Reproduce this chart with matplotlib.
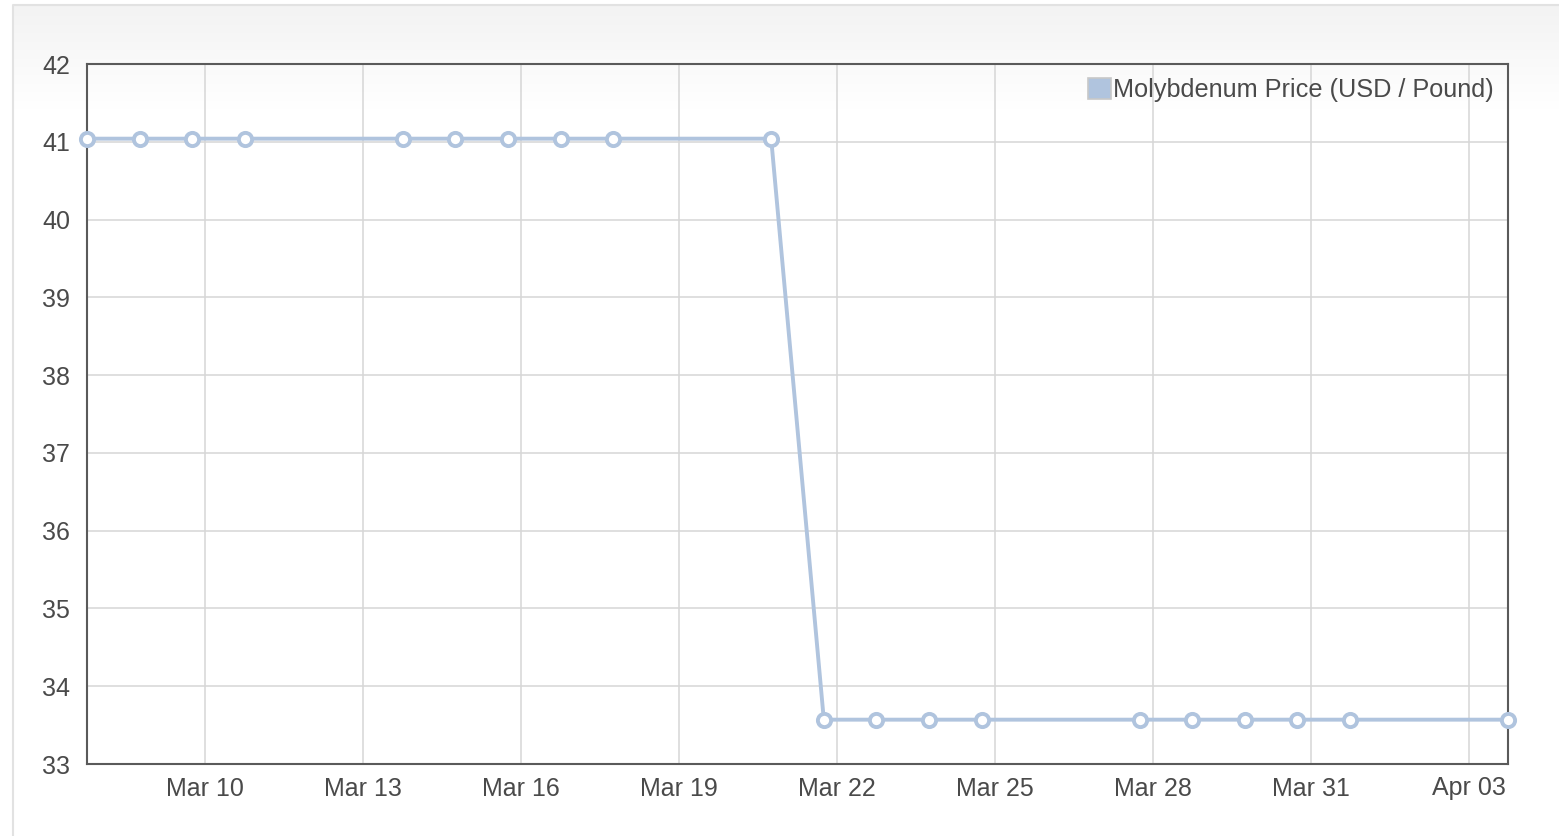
import matplotlib
matplotlib.use("Agg")
import matplotlib.pyplot as plt
import matplotlib.dates as mdates
from matplotlib.patches import Patch
import numpy as np
import datetime as dt

plt.rcParams['font.family'] = ['Liberation Sans', 'DejaVu Sans']

# trading days (values stamped at 18:00)
dates = ["2023-03-07", "2023-03-08", "2023-03-09", "2023-03-10",
         "2023-03-13", "2023-03-14", "2023-03-15", "2023-03-16", "2023-03-17",
         "2023-03-20", "2023-03-21", "2023-03-22", "2023-03-23", "2023-03-24",
         "2023-03-27", "2023-03-28", "2023-03-29", "2023-03-30", "2023-03-31",
         "2023-04-03"]
prices = [41.04, 41.04, 41.04, 41.04,
          41.04, 41.04, 41.04, 41.04, 41.04,
          41.04, 33.57, 33.57, 33.57, 33.57,
          33.57, 33.57, 33.57, 33.57, 33.57,
          33.57]
tick_dates = ["2023-03-10", "2023-03-13", "2023-03-16", "2023-03-19", "2023-03-22",
              "2023-03-25", "2023-03-28", "2023-03-31", "2023-04-03"]
label = "Molybdenum Price (USD / Pound)"

W, H = 1559, 836
fig = plt.figure(figsize=(W / 100, H / 100), dpi=100)
fig.patch.set_facecolor("white")

# card background with soft top gradient
bg = fig.add_axes([0, 0, 1, 1], zorder=-1)
bg.set_xlim(0, W)
bg.set_ylim(H, 0)
bg.axis("off")
grad = np.linspace(0.952, 1.0, 100).reshape(-1, 1)
bg.imshow(np.dstack([grad, grad, grad]), extent=[13, W, 110, 5], aspect="auto")
bg.plot([13, 13, W], [H, 5, 5], color="#e2e2e2", lw=1.5)

x = [dt.datetime.strptime(d, "%Y-%m-%d") + dt.timedelta(hours=18) for d in dates]
ticks = [dt.datetime.strptime(d, "%Y-%m-%d") for d in tick_dates]

ax = fig.add_axes([87 / W, 1 - 764 / H, (1508 - 87) / W, (764 - 64) / H])
ax.set_facecolor("none")
line_c = "#b0c4de"
ax.plot(x, prices, color=line_c, lw=2.8, marker="o", ms=9.5,
        mfc="white", mec=line_c, mew=2.8, clip_on=False, zorder=3)

ax.set_xlim(x[0], x[-1])
ax.set_ylim(33, 42)
ax.set_yticks(range(33, 43))
ax.set_xticks(ticks)
ax.xaxis.set_major_formatter(mdates.DateFormatter("%b %d"))
ax.grid(True, color="#d6d6d6", lw=1.1)
ax.set_axisbelow(True)
ax.tick_params(length=0, labelsize=18, labelcolor="#4a4a4a")
ax.tick_params(axis="y", pad=12)
ax.tick_params(axis="x", pad=9)
for s in ax.spines.values():
    s.set_color("#5a5a5a")
    s.set_linewidth(1.5)

handle = Patch(facecolor=line_c, edgecolor="#c8c8c8", lw=1.2)
ax.legend([handle], [label], loc="upper right", frameon=False, fontsize=18.2,
          handlelength=0.9, handleheight=0.9, handletextpad=0.1,
          borderaxespad=0.15, labelcolor="#4a4a4a")

fig.savefig("out.png", dpi=100)
